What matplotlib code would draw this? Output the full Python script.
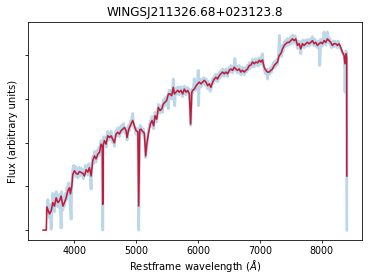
import matplotlib
matplotlib.use("Agg")
import matplotlib.pyplot as plt

# observed spectrum (wavelength in Angstrom, flux in arbitrary units)
obs_wave = [3560, 3575, 3590, 3602, 3615, 3629, 3640, 3656, 3670, 3682, 3697, 3710, 3724, 3737, 3750, 3763,
            3777, 3790, 3800, 3818, 3831, 3844, 3858, 3871, 3885, 3898, 3912, 3924, 3935, 3952, 3963, 3979,
            3990, 4005, 4018, 4030, 4045, 4059, 4072, 4085, 4100, 4113, 4127, 4140, 4153, 4166, 4180, 4194,
            4208, 4221, 4235, 4247, 4260, 4274, 4287, 4301, 4315, 4328, 4342, 4355, 4368, 4382, 4395, 4409,
            4422, 4435, 4450, 4462, 4470, 4480, 4489, 4503, 4516, 4530, 4543, 4557, 4570, 4584, 4597, 4610,
            4624, 4637, 4650, 4664, 4677, 4690, 4704, 4717, 4731, 4744, 4758, 4771, 4785, 4798, 4812, 4825,
            4839, 4855, 4868, 4882, 4895, 4908, 4919, 4932, 4946, 4960, 4973, 4986, 5000, 5015, 5030, 5043,
            5055, 5068, 5081, 5094, 5107, 5120, 5134, 5145, 5156, 5165, 5180, 5199, 5215, 5231, 5245, 5258,
            5272, 5285, 5296, 5307, 5320, 5334, 5348, 5361, 5374, 5387, 5400, 5414, 5428, 5441, 5455, 5468,
            5481, 5495, 5508, 5522, 5535, 5549, 5562, 5575, 5589, 5602, 5612, 5625, 5635, 5645, 5659, 5672,
            5686, 5699, 5713, 5726, 5740, 5753, 5766, 5780, 5793, 5807, 5820, 5834, 5848, 5861, 5872, 5882,
            5892, 5900, 5914, 5928, 5941, 5955, 5968, 5982, 5995, 6005, 6011, 6022, 6035, 6049, 6062, 6075,
            6089, 6102, 6115, 6129, 6142, 6156, 6169, 6183, 6197, 6210, 6224, 6237, 6250, 6264, 6278, 6291,
            6304, 6317, 6331, 6344, 6358, 6371, 6385, 6398, 6411, 6425, 6438, 6452, 6465, 6479, 6492, 6506,
            6519, 6532, 6546, 6559, 6572, 6586, 6597, 6613, 6627, 6640, 6654, 6667, 6680, 6694, 6707, 6721,
            6734, 6748, 6761, 6774, 6788, 6801, 6815, 6828, 6841, 6855, 6868, 6882, 6895, 6909, 6922, 6936,
            6950, 6963, 6976, 6990, 7003, 7016, 7030, 7043, 7056, 7070, 7083, 7097, 7110, 7124, 7138, 7151,
            7164, 7178, 7191, 7204, 7218, 7231, 7245, 7258, 7272, 7285, 7300, 7317, 7326, 7339, 7352, 7366,
            7379, 7393, 7406, 7419, 7433, 7446, 7460, 7473, 7487, 7500, 7514, 7527, 7540, 7554, 7568, 7581,
            7595, 7608, 7621, 7635, 7648, 7661, 7675, 7688, 7701, 7715, 7728, 7742, 7755, 7769, 7782, 7796,
            7809, 7823, 7836, 7850, 7863, 7876, 7890, 7903, 7917, 7930, 7944, 7957, 7968, 7984, 7997, 8011,
            8024, 8038, 8051, 8065, 8078, 8091, 8105, 8118, 8132, 8145, 8159, 8172, 8186, 8199, 8213, 8226,
            8240, 8253, 8267, 8280, 8293, 8306, 8320, 8333, 8346, 8360, 8370, 8376, 8385, 8392, 8400, 8405]
obs_flux = [0.40, 0.70, 0.42, 0.28, 0.58, 0.02, 0.50, 0.84, 0.58, 0.42, 0.74, 0.88, 0.56, 0.74, 0.52, 0.82,
            0.60, 0.05, 0.88, 0.46, 0.74, 0.55, 0.84, 0.68, 0.98, 0.82, 1.08, 0.88, 0.60, 0.25, 1.10, 1.38,
            1.48, 1.28, 1.46, 1.22, 1.42, 1.20, 1.40, 1.44, 1.24, 1.42, 1.26, 1.38, 1.18, 1.28, 1.48, 1.30,
            1.46, 1.26, 1.52, 1.36, 1.28, 0.94, 1.54, 1.68, 1.52, 1.80, 1.60, 1.56, 1.82, 1.68, 1.88, 1.72,
            1.94, 2.05, 1.86, 0.00, 1.90, 2.14, 1.98, 2.12, 1.90, 2.16, 2.26, 2.06, 2.20, 2.08, 2.26, 2.10,
            2.00, 2.14, 1.92, 2.18, 2.28, 2.16, 2.34, 2.18, 2.14, 2.36, 2.22, 2.40, 2.26, 2.44, 2.30, 2.22,
            2.34, 2.06, 2.28, 2.40, 2.28, 2.50, 2.38, 2.58, 2.67, 2.42, 2.33, 2.32, 2.20, 2.33, 2.18, 0.00,
            2.27, 2.40, 2.25, 2.35, 2.20, 2.31, 2.16, 2.05, 1.66, 1.80, 2.00, 2.28, 2.38, 2.50, 2.38, 2.60,
            2.44, 2.32, 2.54, 2.70, 2.56, 2.48, 2.74, 2.88, 2.74, 2.68, 2.76, 2.86, 2.70, 2.98, 2.84, 3.02,
            2.88, 3.06, 2.92, 2.78, 3.20, 3.06, 3.20, 3.00, 3.18, 3.46, 3.08, 2.85, 3.24, 3.10, 3.26, 3.14,
            3.28, 3.10, 3.25, 3.28, 3.14, 3.06, 3.22, 3.30, 3.16, 3.10, 3.27, 3.14, 3.25, 3.06, 2.90, 2.40,
            2.80, 3.22, 3.14, 3.29, 3.47, 3.20, 3.39, 3.26, 3.43, 3.66, 2.85, 3.47, 3.32, 3.28, 3.45, 3.34,
            3.49, 3.38, 3.32, 3.47, 3.34, 3.24, 3.41, 3.28, 3.18, 3.22, 3.37, 3.47, 3.36, 3.53, 3.42, 3.57,
            3.46, 3.40, 3.55, 3.61, 3.48, 3.65, 3.54, 3.69, 3.56, 3.52, 3.67, 3.56, 3.69, 3.52, 3.65, 3.73,
            3.62, 3.77, 3.64, 3.60, 3.73, 3.79, 3.93, 3.64, 3.75, 3.60, 3.73, 3.77, 3.64, 3.56, 3.67, 3.73,
            3.60, 3.56, 3.69, 3.73, 3.62, 3.77, 3.68, 3.83, 3.70, 3.85, 3.74, 3.91, 3.78, 3.74, 3.89, 3.93,
            3.78, 3.89, 3.76, 3.95, 3.84, 3.80, 3.97, 4.04, 3.78, 3.70, 3.60, 3.58, 3.68, 3.46, 3.68, 3.56,
            3.66, 3.73, 3.62, 3.75, 3.83, 3.72, 3.87, 3.76, 3.91, 3.80, 3.97, 4.46, 4.00, 4.11, 3.98, 4.23,
            4.10, 4.31, 4.20, 4.35, 4.22, 4.39, 4.24, 4.37, 4.26, 4.43, 4.28, 4.47, 4.32, 4.28, 4.45, 4.32,
            4.26, 4.16, 4.33, 4.22, 4.16, 4.04, 4.33, 4.22, 4.35, 4.18, 4.31, 4.35, 4.22, 4.37, 4.26, 4.22,
            4.37, 4.26, 4.39, 4.43, 4.28, 4.22, 4.37, 4.26, 4.20, 4.18, 4.33, 4.22, 3.77, 4.37, 4.24, 4.22,
            4.35, 4.54, 4.28, 4.24, 4.39, 4.54, 4.40, 4.28, 4.39, 4.24, 4.18, 4.28, 4.33, 4.20, 4.33, 4.22,
            4.31, 4.18, 4.33, 4.22, 4.18, 4.16, 4.10, 4.06, 4.04, 3.98, 3.70, 3.16, 3.80, 4.10, 3.96, 0.00]

# model fit
mod_wave = [3500, 3550, 3560, 3602, 3629, 3656, 3682, 3710, 3737, 3763, 3790, 3818, 3844, 3871, 3898, 3924,
            3940, 3963, 3979, 4005, 4030, 4059, 4085, 4113, 4140, 4166, 4194, 4221, 4247, 4274, 4301, 4328,
            4355, 4382, 4409, 4435, 4455, 4462, 4470, 4489, 4516, 4543, 4570, 4597, 4624, 4650, 4677, 4704,
            4731, 4758, 4785, 4812, 4839, 4855, 4882, 4919, 4946, 4973, 5000, 5030, 5043, 5060, 5081, 5107,
            5134, 5156, 5172, 5199, 5231, 5258, 5285, 5307, 5334, 5361, 5387, 5414, 5441, 5468, 5495, 5522,
            5549, 5575, 5602, 5619, 5645, 5672, 5699, 5726, 5753, 5780, 5807, 5834, 5861, 5882, 5900, 5914,
            5941, 5968, 5995, 6022, 6049, 6075, 6102, 6129, 6156, 6183, 6210, 6237, 6264, 6291, 6317, 6344,
            6371, 6398, 6425, 6452, 6479, 6506, 6532, 6559, 6586, 6613, 6640, 6667, 6694, 6721, 6748, 6774,
            6801, 6828, 6855, 6882, 6909, 6936, 6963, 6990, 7016, 7043, 7070, 7097, 7124, 7151, 7178, 7204,
            7231, 7258, 7285, 7312, 7339, 7366, 7393, 7419, 7446, 7473, 7500, 7527, 7554, 7581, 7608, 7635,
            7661, 7688, 7715, 7742, 7769, 7796, 7823, 7850, 7876, 7903, 7930, 7957, 7984, 8011, 8038, 8065,
            8091, 8118, 8145, 8172, 8199, 8226, 8253, 8280, 8306, 8333, 8360, 8376, 8392, 8403, 8405]
mod_flux = [0.00, 0.00, 0.53, 0.37, 0.44, 0.63, 0.55, 0.74, 0.63, 0.67, 0.78, 0.55, 0.63, 0.74, 0.90, 0.97,
            0.83, 1.01, 1.28, 1.36, 1.30, 1.28, 1.34, 1.32, 1.30, 1.24, 1.38, 1.33, 1.43, 1.24, 1.59, 1.70,
            1.63, 1.74, 1.78, 1.97, 1.90, 0.59, 1.95, 2.05, 1.97, 2.16, 2.12, 2.16, 2.08, 2.00, 2.20, 2.24,
            2.20, 2.28, 2.31, 2.35, 2.28, 2.12, 2.31, 2.43, 2.51, 2.39, 2.28, 2.25, 0.55, 2.30, 2.31, 2.26,
            2.22, 1.70, 1.95, 2.20, 2.43, 2.51, 2.39, 2.62, 2.54, 2.81, 2.74, 2.77, 2.89, 2.93, 2.97, 3.12,
            3.12, 3.08, 3.27, 3.12, 3.16, 3.20, 3.16, 3.20, 3.12, 3.23, 3.16, 3.20, 3.12, 2.43, 3.15, 3.20,
            3.23, 3.30, 3.35, 3.39, 3.35, 3.39, 3.43, 3.39, 3.31, 3.35, 3.27, 3.39, 3.46, 3.50, 3.46, 3.54,
            3.58, 3.62, 3.58, 3.62, 3.58, 3.66, 3.69, 3.66, 3.73, 3.69, 3.66, 3.69, 3.62, 3.66, 3.62, 3.66,
            3.69, 3.77, 3.78, 3.85, 3.81, 3.85, 3.83, 3.89, 3.85, 3.90, 3.73, 3.66, 3.62, 3.62, 3.66, 3.69,
            3.77, 3.81, 3.85, 4.00, 4.04, 4.15, 4.23, 4.27, 4.30, 4.30, 4.34, 4.38, 4.34, 4.38, 4.23, 4.27,
            4.15, 4.27, 4.23, 4.27, 4.30, 4.27, 4.30, 4.34, 4.27, 4.30, 4.23, 4.27, 4.30, 4.27, 4.34, 4.30,
            4.38, 4.34, 4.30, 4.23, 4.27, 4.27, 4.23, 4.27, 4.19, 4.08, 4.00, 3.81, 4.04, 3.95, 1.24]

fig = plt.figure(figsize=(369 / 72, 275 / 72), dpi=72)
ax = fig.add_axes([28 / 369, 35 / 275, 334 / 369, 218 / 275])

ax.plot(obs_wave, obs_flux, color="#bcd6ea", linewidth=2.8)
ax.plot(mod_wave, mod_flux, color="#be1e3c", linewidth=1.6)

ax.set_title("WINGSJ211326.68+023123.8", fontsize=12)
ax.set_xlabel(r"Restframe wavelength ($\AA$)", fontsize=10, labelpad=2)
ax.set_ylabel("Flux (arbitrary units)", fontsize=10)
ax.set_xticks([4000, 5000, 6000, 7000, 8000])
ax.set_yticks([0, 1, 2, 3, 4])
ax.set_yticklabels([])
ax.tick_params(labelsize=9.5, length=3, pad=2.5)

fig.savefig("out.png", dpi=72)
